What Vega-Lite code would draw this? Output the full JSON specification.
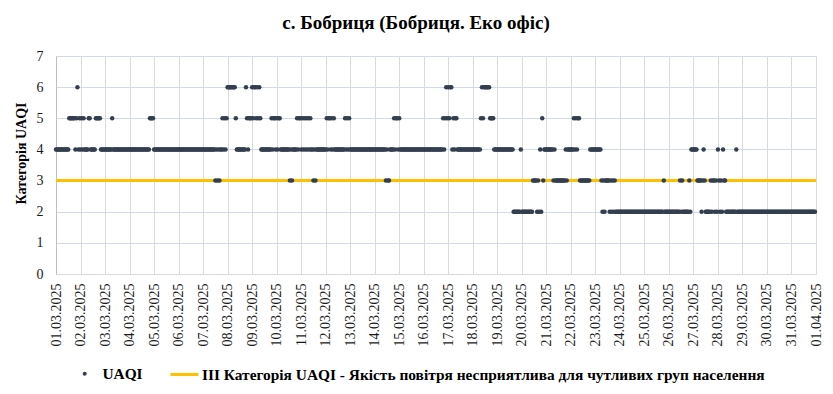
{
"$schema": "https://vega.github.io/schema/vega-lite/v6.json",
"width": 760, "height": 218,
"autosize": "none",
"padding": {"left": 56, "top": 56, "right": 17, "bottom": 120},
"background": "white",
"title": {"text": "с. Бобриця (Бобриця. Еко офіс)", "font": "Liberation Serif", "fontSize": 19, "fontWeight": "bold", "color": "#000000", "anchor": "middle", "offset": 16, "dx": -20},
"config": {"view": {"stroke": null}, "font": "Liberation Serif"},
"encoding": {
  "y": {"field": "v", "type": "quantitative", "scale": {"domain": [0, 7], "nice": false},
   "axis": {"values": [0,1,2,3,4,5,6,7], "title": "Категорія UAQI", "titleFont": "Liberation Serif", "titleFontSize": 14, "titleFontWeight": "bold", "titleColor": "#000000",
    "titleX": -31, "titleY": 97, "titleAngle": -90, "titleAlign": "center", "titleBaseline": "alphabetic",
    "labelFont": "Liberation Serif", "labelFontSize": 14, "labelColor": "#1a1a1a", "labelPadding": 13, "labelOverlap": false, "labelFlush": false,
    "ticks": false, "domainColor": "#BFBFBF", "gridColor": "#CFDAEE"}}
},
"layer": [
{"data": {"values": [{"v": 3, "label": "III Категорія UAQI - Якість повітря несприятлива для чутливих груп населення"}]},
 "mark": {"type": "rule", "strokeWidth": 3},
 "encoding": {
  "stroke": {"field": "label", "type": "nominal", "scale": {"range": ["#FFC000"]},
   "legend": {"orient": "none", "legendX": 113, "legendY": 303, "title": null, "symbolType": "stroke", "symbolSize": 784, "symbolStrokeWidth": 3, "labelFont": "Liberation Serif", "labelFontSize": 15.4, "labelFontWeight": "bold", "labelColor": "#000000", "labelOffset": 2, "labelLimit": 0, "padding": 0}}
 }},
{"data": {"values": [
{"h":0,"v":4},{"h":1,"v":4},{"h":2,"v":4},{"h":3,"v":4},{"h":4,"v":4},{"h":5,"v":4},{"h":6,"v":4},{"h":7,"v":4},{"h":8,"v":4},{"h":9,"v":4},{"h":10,"v":4},{"h":11,"v":4},{"h":12,"v":4},
{"h":13,"v":5},{"h":14,"v":5},{"h":15,"v":5},{"h":16,"v":5},{"h":17,"v":5},{"h":18,"v":5},
{"h":19,"v":4},{"h":20,"v":5},{"h":21,"v":6},{"h":22,"v":4},{"h":23,"v":5},{"h":24,"v":4},{"h":25,"v":5},{"h":26,"v":4},{"h":27,"v":5},
{"h":28,"v":4},{"h":29,"v":4},{"h":30,"v":4},{"h":31,"v":4},{"h":32,"v":5},{"h":33,"v":5},
{"h":34,"v":4},{"h":35,"v":4},{"h":36,"v":4},{"h":37,"v":4},{"h":38,"v":4},
{"h":39,"v":5},{"h":40,"v":5},{"h":41,"v":5},{"h":42,"v":5},{"h":43,"v":5},
{"h":44,"v":4},{"h":45,"v":4},{"h":46,"v":4},{"h":47,"v":4},{"h":48,"v":4},{"h":49,"v":4},{"h":50,"v":4},{"h":51,"v":4},{"h":52,"v":4},{"h":53,"v":4},{"h":54,"v":4},
{"h":55,"v":5},
{"h":56,"v":4},{"h":57,"v":4},{"h":58,"v":4},{"h":59,"v":4},{"h":60,"v":4},{"h":61,"v":4},{"h":62,"v":4},{"h":63,"v":4},{"h":64,"v":4},{"h":65,"v":4},{"h":66,"v":4},{"h":67,"v":4},{"h":68,"v":4},{"h":69,"v":4},{"h":70,"v":4},{"h":71,"v":4},{"h":72,"v":4},{"h":73,"v":4},{"h":74,"v":4},{"h":75,"v":4},{"h":76,"v":4},{"h":77,"v":4},{"h":78,"v":4},{"h":79,"v":4},{"h":80,"v":4},{"h":81,"v":4},{"h":82,"v":4},{"h":83,"v":4},{"h":84,"v":4},{"h":85,"v":4},{"h":86,"v":4},{"h":87,"v":4},{"h":88,"v":4},{"h":89,"v":4},{"h":90,"v":4},{"h":91,"v":4},
{"h":92,"v":5},{"h":93,"v":5},{"h":94,"v":5},{"h":95,"v":5},
{"h":96,"v":4},{"h":97,"v":4},{"h":98,"v":4},{"h":99,"v":4},{"h":100,"v":4},{"h":101,"v":4},{"h":102,"v":4},{"h":103,"v":4},{"h":104,"v":4},{"h":105,"v":4},{"h":106,"v":4},{"h":107,"v":4},{"h":108,"v":4},{"h":109,"v":4},{"h":110,"v":4},{"h":111,"v":4},{"h":112,"v":4},{"h":113,"v":4},{"h":114,"v":4},{"h":115,"v":4},{"h":116,"v":4},{"h":117,"v":4},{"h":118,"v":4},{"h":119,"v":4},{"h":120,"v":4},{"h":121,"v":4},{"h":122,"v":4},{"h":123,"v":4},{"h":124,"v":4},{"h":125,"v":4},{"h":126,"v":4},{"h":127,"v":4},{"h":128,"v":4},{"h":129,"v":4},{"h":130,"v":4},{"h":131,"v":4},{"h":132,"v":4},{"h":133,"v":4},{"h":134,"v":4},{"h":135,"v":4},{"h":136,"v":4},{"h":137,"v":4},{"h":138,"v":4},{"h":139,"v":4},{"h":140,"v":4},{"h":141,"v":4},{"h":142,"v":4},{"h":143,"v":4},{"h":144,"v":4},{"h":145,"v":4},{"h":146,"v":4},{"h":147,"v":4},{"h":148,"v":4},{"h":149,"v":4},{"h":150,"v":4},{"h":151,"v":4},{"h":152,"v":4},{"h":153,"v":4},{"h":154,"v":4},{"h":155,"v":4},
{"h":156,"v":3},{"h":157,"v":4},{"h":158,"v":3},{"h":159,"v":4},{"h":160,"v":3},{"h":161,"v":4},{"h":162,"v":4},
{"h":163,"v":5},{"h":164,"v":4},{"h":165,"v":5},{"h":166,"v":4},{"h":167,"v":5},
{"h":168,"v":6},{"h":169,"v":6},{"h":170,"v":6},{"h":171,"v":6},{"h":172,"v":6},{"h":173,"v":6},{"h":174,"v":6},{"h":175,"v":6},{"h":176,"v":5},
{"h":177,"v":4},{"h":178,"v":4},{"h":179,"v":4},{"h":180,"v":4},{"h":181,"v":4},{"h":182,"v":4},{"h":183,"v":4},{"h":184,"v":4},{"h":185,"v":4},
{"h":186,"v":6},{"h":187,"v":5},{"h":188,"v":4},{"h":189,"v":5},{"h":190,"v":5},{"h":191,"v":5},
{"h":192,"v":6},{"h":193,"v":5},{"h":194,"v":6},{"h":195,"v":6},{"h":196,"v":5},{"h":197,"v":6},{"h":198,"v":5},{"h":199,"v":6},{"h":200,"v":5},
{"h":201,"v":4},{"h":202,"v":4},{"h":203,"v":4},{"h":204,"v":4},{"h":205,"v":4},{"h":206,"v":4},{"h":207,"v":4},{"h":208,"v":4},{"h":209,"v":4},{"h":210,"v":4},
{"h":211,"v":5},{"h":212,"v":4},{"h":213,"v":5},{"h":214,"v":5},{"h":215,"v":4},{"h":216,"v":5},{"h":217,"v":4},{"h":218,"v":5},{"h":219,"v":5},
{"h":220,"v":4},{"h":221,"v":4},{"h":222,"v":4},{"h":223,"v":4},{"h":224,"v":4},{"h":225,"v":4},{"h":226,"v":4},{"h":227,"v":4},{"h":228,"v":4},
{"h":229,"v":3},{"h":230,"v":4},{"h":231,"v":3},
{"h":232,"v":4},{"h":233,"v":4},{"h":234,"v":4},{"h":235,"v":4},
{"h":236,"v":5},{"h":237,"v":4},{"h":238,"v":5},{"h":239,"v":5},{"h":240,"v":4},{"h":241,"v":5},{"h":242,"v":4},{"h":243,"v":5},{"h":244,"v":4},{"h":245,"v":5},{"h":246,"v":4},{"h":247,"v":5},{"h":248,"v":4},{"h":249,"v":5},
{"h":250,"v":4},{"h":251,"v":4},{"h":252,"v":3},{"h":253,"v":4},{"h":254,"v":3},
{"h":255,"v":4},{"h":256,"v":4},{"h":257,"v":4},{"h":258,"v":4},{"h":259,"v":4},{"h":260,"v":4},{"h":261,"v":4},{"h":262,"v":4},{"h":263,"v":4},{"h":264,"v":4},
{"h":265,"v":5},{"h":266,"v":4},{"h":267,"v":5},{"h":268,"v":5},{"h":269,"v":4},{"h":270,"v":5},{"h":271,"v":4},{"h":272,"v":5},
{"h":273,"v":4},{"h":274,"v":4},{"h":275,"v":4},{"h":276,"v":4},{"h":277,"v":4},{"h":278,"v":4},{"h":279,"v":4},{"h":280,"v":4},{"h":281,"v":4},{"h":282,"v":4},
{"h":283,"v":5},{"h":284,"v":4},{"h":285,"v":5},{"h":286,"v":4},{"h":287,"v":5},
{"h":288,"v":4},{"h":289,"v":4},{"h":290,"v":4},{"h":291,"v":4},{"h":292,"v":4},{"h":293,"v":4},{"h":294,"v":4},{"h":295,"v":4},{"h":296,"v":4},{"h":297,"v":4},{"h":298,"v":4},{"h":299,"v":4},{"h":300,"v":4},{"h":301,"v":4},{"h":302,"v":4},{"h":303,"v":4},{"h":304,"v":4},{"h":305,"v":4},{"h":306,"v":4},{"h":307,"v":4},{"h":308,"v":4},{"h":309,"v":4},{"h":310,"v":4},{"h":311,"v":4},{"h":312,"v":4},{"h":313,"v":4},{"h":314,"v":4},{"h":315,"v":4},{"h":316,"v":4},{"h":317,"v":4},{"h":318,"v":4},{"h":319,"v":4},{"h":320,"v":4},{"h":321,"v":4},{"h":322,"v":4},
{"h":323,"v":3},{"h":324,"v":4},{"h":325,"v":3},{"h":326,"v":3},
{"h":327,"v":4},{"h":328,"v":4},{"h":329,"v":4},{"h":330,"v":4},
{"h":331,"v":5},{"h":332,"v":4},{"h":333,"v":5},{"h":334,"v":5},{"h":335,"v":4},{"h":336,"v":5},
{"h":337,"v":4},{"h":338,"v":4},{"h":339,"v":4},{"h":340,"v":4},{"h":341,"v":4},{"h":342,"v":4},{"h":343,"v":4},{"h":344,"v":4},{"h":345,"v":4},{"h":346,"v":4},{"h":347,"v":4},{"h":348,"v":4},{"h":349,"v":4},{"h":350,"v":4},{"h":351,"v":4},{"h":352,"v":4},{"h":353,"v":4},{"h":354,"v":4},{"h":355,"v":4},{"h":356,"v":4},{"h":357,"v":4},{"h":358,"v":4},{"h":359,"v":4},{"h":360,"v":4},{"h":361,"v":4},{"h":362,"v":4},{"h":363,"v":4},{"h":364,"v":4},{"h":365,"v":4},{"h":366,"v":4},{"h":367,"v":4},{"h":368,"v":4},{"h":369,"v":4},{"h":370,"v":4},{"h":371,"v":4},{"h":372,"v":4},{"h":373,"v":4},{"h":374,"v":4},{"h":375,"v":4},{"h":376,"v":4},{"h":377,"v":4},{"h":378,"v":4},
{"h":379,"v":5},{"h":380,"v":4},{"h":381,"v":5},{"h":382,"v":6},{"h":383,"v":5},{"h":384,"v":6},{"h":385,"v":5},{"h":386,"v":6},{"h":387,"v":6},{"h":388,"v":4},{"h":389,"v":5},{"h":390,"v":4},{"h":391,"v":5},{"h":392,"v":5},
{"h":393,"v":4},{"h":394,"v":4},{"h":395,"v":4},{"h":396,"v":4},{"h":397,"v":4},{"h":398,"v":4},{"h":399,"v":4},{"h":400,"v":4},{"h":401,"v":4},{"h":402,"v":4},{"h":403,"v":4},{"h":404,"v":4},{"h":405,"v":4},{"h":406,"v":4},{"h":407,"v":4},{"h":408,"v":4},{"h":409,"v":4},{"h":410,"v":4},{"h":411,"v":4},{"h":412,"v":4},{"h":413,"v":4},{"h":414,"v":4},{"h":415,"v":4},
{"h":416,"v":5},{"h":417,"v":6},{"h":418,"v":5},{"h":419,"v":6},{"h":420,"v":6},{"h":421,"v":6},{"h":422,"v":6},{"h":423,"v":6},{"h":424,"v":6},{"h":425,"v":5},{"h":426,"v":5},{"h":427,"v":5},{"h":428,"v":5},
{"h":429,"v":4},{"h":430,"v":4},{"h":431,"v":4},{"h":432,"v":4},{"h":433,"v":4},{"h":434,"v":4},{"h":435,"v":4},{"h":436,"v":4},{"h":437,"v":4},{"h":438,"v":4},{"h":439,"v":4},{"h":440,"v":4},{"h":441,"v":4},{"h":442,"v":4},{"h":443,"v":4},{"h":444,"v":4},{"h":445,"v":4},{"h":446,"v":4},{"h":447,"v":4},
{"h":448,"v":2},{"h":449,"v":2},{"h":450,"v":2},{"h":451,"v":2},{"h":452,"v":2},{"h":453,"v":2},{"h":454,"v":2},{"h":455,"v":4},
{"h":456,"v":2},{"h":457,"v":2},{"h":458,"v":2},{"h":459,"v":2},{"h":460,"v":2},{"h":461,"v":2},{"h":462,"v":2},{"h":463,"v":2},{"h":464,"v":2},{"h":465,"v":2},{"h":466,"v":2},
{"h":467,"v":3},{"h":468,"v":3},{"h":469,"v":3},{"h":470,"v":3},
{"h":471,"v":2},{"h":472,"v":3},{"h":473,"v":2},{"h":474,"v":4},{"h":475,"v":2},{"h":476,"v":5},{"h":477,"v":3},
{"h":478,"v":4},{"h":479,"v":4},{"h":480,"v":4},{"h":481,"v":4},{"h":482,"v":4},{"h":483,"v":4},{"h":484,"v":4},{"h":485,"v":4},{"h":486,"v":4},
{"h":487,"v":3},{"h":488,"v":4},
{"h":489,"v":3},{"h":490,"v":3},{"h":491,"v":3},{"h":492,"v":3},{"h":493,"v":3},{"h":494,"v":3},{"h":495,"v":3},{"h":496,"v":3},{"h":497,"v":3},{"h":498,"v":3},
{"h":499,"v":4},{"h":500,"v":3},
{"h":501,"v":4},{"h":502,"v":4},{"h":503,"v":4},{"h":504,"v":4},{"h":505,"v":4},{"h":506,"v":4},
{"h":507,"v":5},{"h":508,"v":4},{"h":509,"v":5},{"h":510,"v":4},{"h":511,"v":5},{"h":512,"v":5},
{"h":513,"v":3},{"h":514,"v":3},{"h":515,"v":3},{"h":516,"v":3},{"h":517,"v":3},{"h":518,"v":3},{"h":519,"v":3},{"h":520,"v":3},{"h":521,"v":3},{"h":522,"v":3},
{"h":523,"v":4},{"h":524,"v":4},{"h":525,"v":4},{"h":526,"v":4},{"h":527,"v":4},{"h":528,"v":4},{"h":529,"v":4},{"h":530,"v":4},{"h":531,"v":4},{"h":532,"v":4},{"h":533,"v":4},
{"h":534,"v":3},{"h":535,"v":2},{"h":536,"v":3},{"h":537,"v":2},{"h":538,"v":3},{"h":539,"v":3},{"h":540,"v":3},{"h":541,"v":3},{"h":542,"v":2},{"h":543,"v":3},{"h":544,"v":2},{"h":545,"v":3},{"h":546,"v":2},{"h":547,"v":3},
{"h":548,"v":2},{"h":549,"v":2},{"h":550,"v":2},{"h":551,"v":2},{"h":552,"v":2},{"h":553,"v":2},{"h":554,"v":2},{"h":555,"v":2},{"h":556,"v":2},{"h":557,"v":2},{"h":558,"v":2},{"h":559,"v":2},{"h":560,"v":2},{"h":561,"v":2},{"h":562,"v":2},{"h":563,"v":2},{"h":564,"v":2},{"h":565,"v":2},{"h":566,"v":2},{"h":567,"v":2},{"h":568,"v":2},{"h":569,"v":2},{"h":570,"v":2},{"h":571,"v":2},{"h":572,"v":2},{"h":573,"v":2},{"h":574,"v":2},{"h":575,"v":2},{"h":576,"v":2},{"h":577,"v":2},{"h":578,"v":2},{"h":579,"v":2},{"h":580,"v":2},{"h":581,"v":2},{"h":582,"v":2},{"h":583,"v":2},{"h":584,"v":2},{"h":585,"v":2},{"h":586,"v":2},{"h":587,"v":2},{"h":588,"v":2},{"h":589,"v":2},{"h":590,"v":2},{"h":591,"v":2},{"h":592,"v":2},{"h":593,"v":2},{"h":594,"v":2},
{"h":595,"v":3},
{"h":596,"v":2},{"h":597,"v":2},{"h":598,"v":2},{"h":599,"v":2},{"h":600,"v":2},{"h":601,"v":2},{"h":602,"v":2},{"h":603,"v":2},{"h":604,"v":2},{"h":605,"v":2},{"h":606,"v":2},{"h":607,"v":2},{"h":608,"v":2},{"h":609,"v":2},{"h":610,"v":2},
{"h":611,"v":3},{"h":612,"v":2},{"h":613,"v":3},
{"h":614,"v":2},{"h":615,"v":2},{"h":616,"v":2},{"h":617,"v":2},{"h":618,"v":2},{"h":619,"v":2},
{"h":620,"v":3},{"h":621,"v":2},
{"h":622,"v":4},{"h":623,"v":4},{"h":624,"v":4},{"h":625,"v":4},{"h":626,"v":4},{"h":627,"v":4},
{"h":628,"v":3},{"h":629,"v":3},{"h":630,"v":3},{"h":631,"v":3},
{"h":632,"v":2},{"h":633,"v":3},{"h":634,"v":4},{"h":635,"v":3},{"h":636,"v":2},
{"h":637,"v":2},{"h":638,"v":2},{"h":639,"v":2},{"h":640,"v":2},
{"h":641,"v":3},{"h":642,"v":2},{"h":643,"v":3},{"h":644,"v":3},{"h":645,"v":2},{"h":646,"v":3},{"h":647,"v":2},{"h":648,"v":4},{"h":649,"v":3},{"h":650,"v":2},{"h":651,"v":3},{"h":652,"v":2},{"h":653,"v":4},{"h":654,"v":3},{"h":655,"v":3},
{"h":656,"v":2},{"h":657,"v":2},{"h":658,"v":2},{"h":659,"v":2},{"h":660,"v":2},{"h":661,"v":2},{"h":662,"v":2},{"h":663,"v":2},{"h":664,"v":2},{"h":665,"v":2},
{"h":666,"v":4},
{"h":667,"v":2},{"h":668,"v":2},{"h":669,"v":2},{"h":670,"v":2},{"h":671,"v":2},{"h":672,"v":2},{"h":673,"v":2},{"h":674,"v":2},{"h":675,"v":2},{"h":676,"v":2},{"h":677,"v":2},{"h":678,"v":2},{"h":679,"v":2},{"h":680,"v":2},{"h":681,"v":2},{"h":682,"v":2},{"h":683,"v":2},{"h":684,"v":2},{"h":685,"v":2},{"h":686,"v":2},{"h":687,"v":2},{"h":688,"v":2},{"h":689,"v":2},{"h":690,"v":2},{"h":691,"v":2},{"h":692,"v":2},{"h":693,"v":2},{"h":694,"v":2},{"h":695,"v":2},{"h":696,"v":2},{"h":697,"v":2},{"h":698,"v":2},{"h":699,"v":2},{"h":700,"v":2},{"h":701,"v":2},{"h":702,"v":2},{"h":703,"v":2},{"h":704,"v":2},{"h":705,"v":2},{"h":706,"v":2},{"h":707,"v":2},{"h":708,"v":2},{"h":709,"v":2},{"h":710,"v":2},{"h":711,"v":2},{"h":712,"v":2},{"h":713,"v":2},{"h":714,"v":2},{"h":715,"v":2},{"h":716,"v":2},{"h":717,"v":2},{"h":718,"v":2},{"h":719,"v":2},{"h":720,"v":2},{"h":721,"v":2},{"h":722,"v":2},{"h":723,"v":2},{"h":724,"v":2},{"h":725,"v":2},{"h":726,"v":2},{"h":727,"v":2},{"h":728,"v":2},{"h":729,"v":2},{"h":730,"v":2},{"h":731,"v":2},{"h":732,"v":2},{"h":733,"v":2},{"h":734,"v":2},{"h":735,"v":2},{"h":736,"v":2},{"h":737,"v":2},{"h":738,"v":2},{"h":739,"v":2},{"h":740,"v":2},{"h":741,"v":2},{"h":742,"v":2},{"h":743,"v":2}
]},
 "mark": {"type": "point", "filled": true, "size": 20, "opacity": 1},
 "encoding": {
  "x": {"field": "h", "type": "quantitative", "scale": {"domain": [0, 744], "nice": false, "zero": false},
   "axis": {"values": [0,24,48,72,96,120,144,168,192,216,240,264,288,312,336,360,384,408,432,456,480,504,528,552,576,600,624,648,672,696,720,744],
    "labelExpr": "timeFormat(datetime(2025, 2, 1 + datum.value / 24), '%d.%m.%Y')",
    "labelAngle": -90, "labelFont": "Liberation Serif", "labelFontSize": 14, "labelColor": "#1a1a1a", "labelPadding": 9,
    "labelOverlap": false, "labelBound": false, "labelFlush": false,
    "ticks": false, "domainColor": "#D9D9D9", "gridColor": "#D9D9D9", "title": null}},
  "fill": {"datum": "UAQI", "type": "nominal", "scale": {"range": ["#333F50"]},
   "legend": {"orient": "none", "legendX": 21, "legendY": 310, "title": null, "symbolType": "circle", "symbolSize": 16, "labelFont": "Liberation Serif", "labelFontSize": 15.4, "labelFontWeight": "bold", "labelColor": "#000000", "labelOffset": 10, "padding": 0}}
 }}
]
}
